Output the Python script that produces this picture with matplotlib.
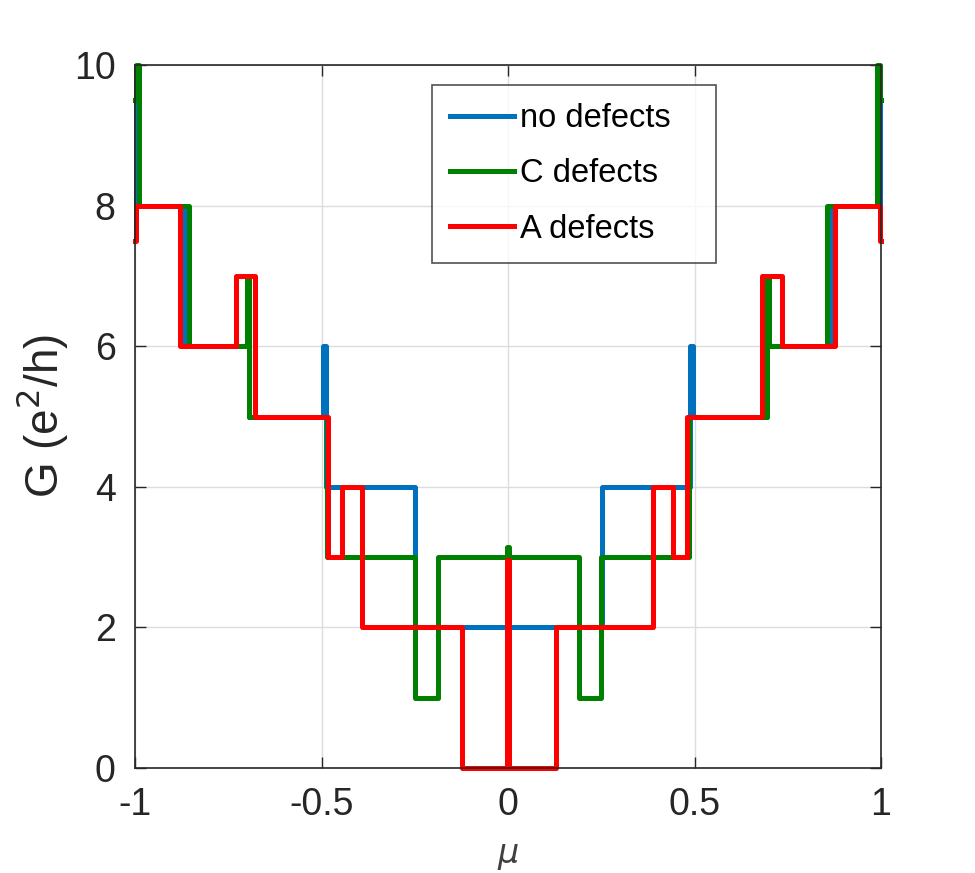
import matplotlib
matplotlib.use("Agg")
import matplotlib.pyplot as plt

plt.rcParams['font.family'] = ['Liberation Sans', 'DejaVu Sans']

# Step edges (mu) and conductance levels G for each interval
mu_none = [-1, -0.996, -0.866, -0.700, -0.694, -0.497, -0.487, -0.249,
           0.251, 0.487, 0.497, 0.694, 0.700, 0.866, 0.996, 1]
G_none = [9.5, 8, 6, 7, 5, 6, 4, 2, 4, 6, 5, 7, 6, 8, 9.5]

mu_C = [-1, -0.997, -0.989, -0.855, -0.700, -0.694, -0.486, -0.249, -0.188,
        -0.002, 0.002, 0.190, 0.250, 0.486, 0.694, 0.700, 0.855, 0.989, 0.997, 1]
G_C = [9.5, 10, 8, 6, 7, 5, 3, 1, 3, 3.15, 3, 1, 3, 5, 7, 6, 8, 10, 9.5]

mu_A = [-1, -0.998, -0.879, -0.729, -0.678, -0.483, -0.445, -0.391, -0.123,
        -0.002, 0.002, 0.129, 0.389, 0.442, 0.480, 0.681, 0.735, 0.877, 0.998, 1]
G_A = [7.5, 8, 6, 7, 5, 3, 4, 2, 0, 2.96, 0, 2, 4, 3, 5, 7, 6, 8, 7.5]

labels = ['no defects', 'C defects', 'A defects']
colors = ['#0072BD', '#008000', '#FF0000']

xticks = [-1, -0.5, 0, 0.5, 1]
xticklabels = ['-1', '-0.5', '0', '0.5', '1']
yticks = [0, 2, 4, 6, 8, 10]

fig = plt.figure(figsize=(9.75, 8.73), dpi=100)
ax = fig.add_axes([135/975, 1 - 768/873, (881-135)/975, (768-65)/873])

for mu, G, lab, c in zip([mu_none, mu_C, mu_A], [G_none, G_C, G_A], labels, colors):
    ax.plot(mu, G + [G[-1]], drawstyle='steps-post', color=c, lw=3.6,
            label=lab, clip_on=False, solid_joinstyle='round')

ax.set_xlim(-1, 1)
ax.set_ylim(0, 10)
ax.set_xticks(xticks)
ax.set_xticklabels(xticklabels)
ax.set_yticks(yticks)
ax.grid(True, color='#dcdcdc', lw=1.0)
ax.set_axisbelow(True)
ax.tick_params(direction='in', length=8, width=1.0, colors='#262626',
               labelsize=27, top=True, right=True)
ax.tick_params(axis='x', pad=13.5)
ax.tick_params(axis='y', pad=14)
for s in ax.spines.values():
    s.set_color('#262626')
    s.set_linewidth(1.2)

ax.set_ylabel('G (e$^2$/h)', fontsize=33, color='#262626', labelpad=2.5)
ax.set_xlabel(r'$\mu$', fontsize=24, color='#404040', labelpad=13)

leg = ax.legend(loc='upper left',
                bbox_to_anchor=(432/975, 1 - 260/873, (716-432)/975, (260-85)/873),
                bbox_transform=fig.transFigure, mode='expand',
                fontsize=23.5, frameon=True,
                fancybox=False, edgecolor='#262626', handlelength=1.95,
                handletextpad=0.2, labelspacing=0.75, borderpad=0.55,
                borderaxespad=0)
leg.get_frame().set_linewidth(1.2)
for t in leg.get_texts():
    t.set_color('black')

fig.savefig('out.png', dpi=100)
